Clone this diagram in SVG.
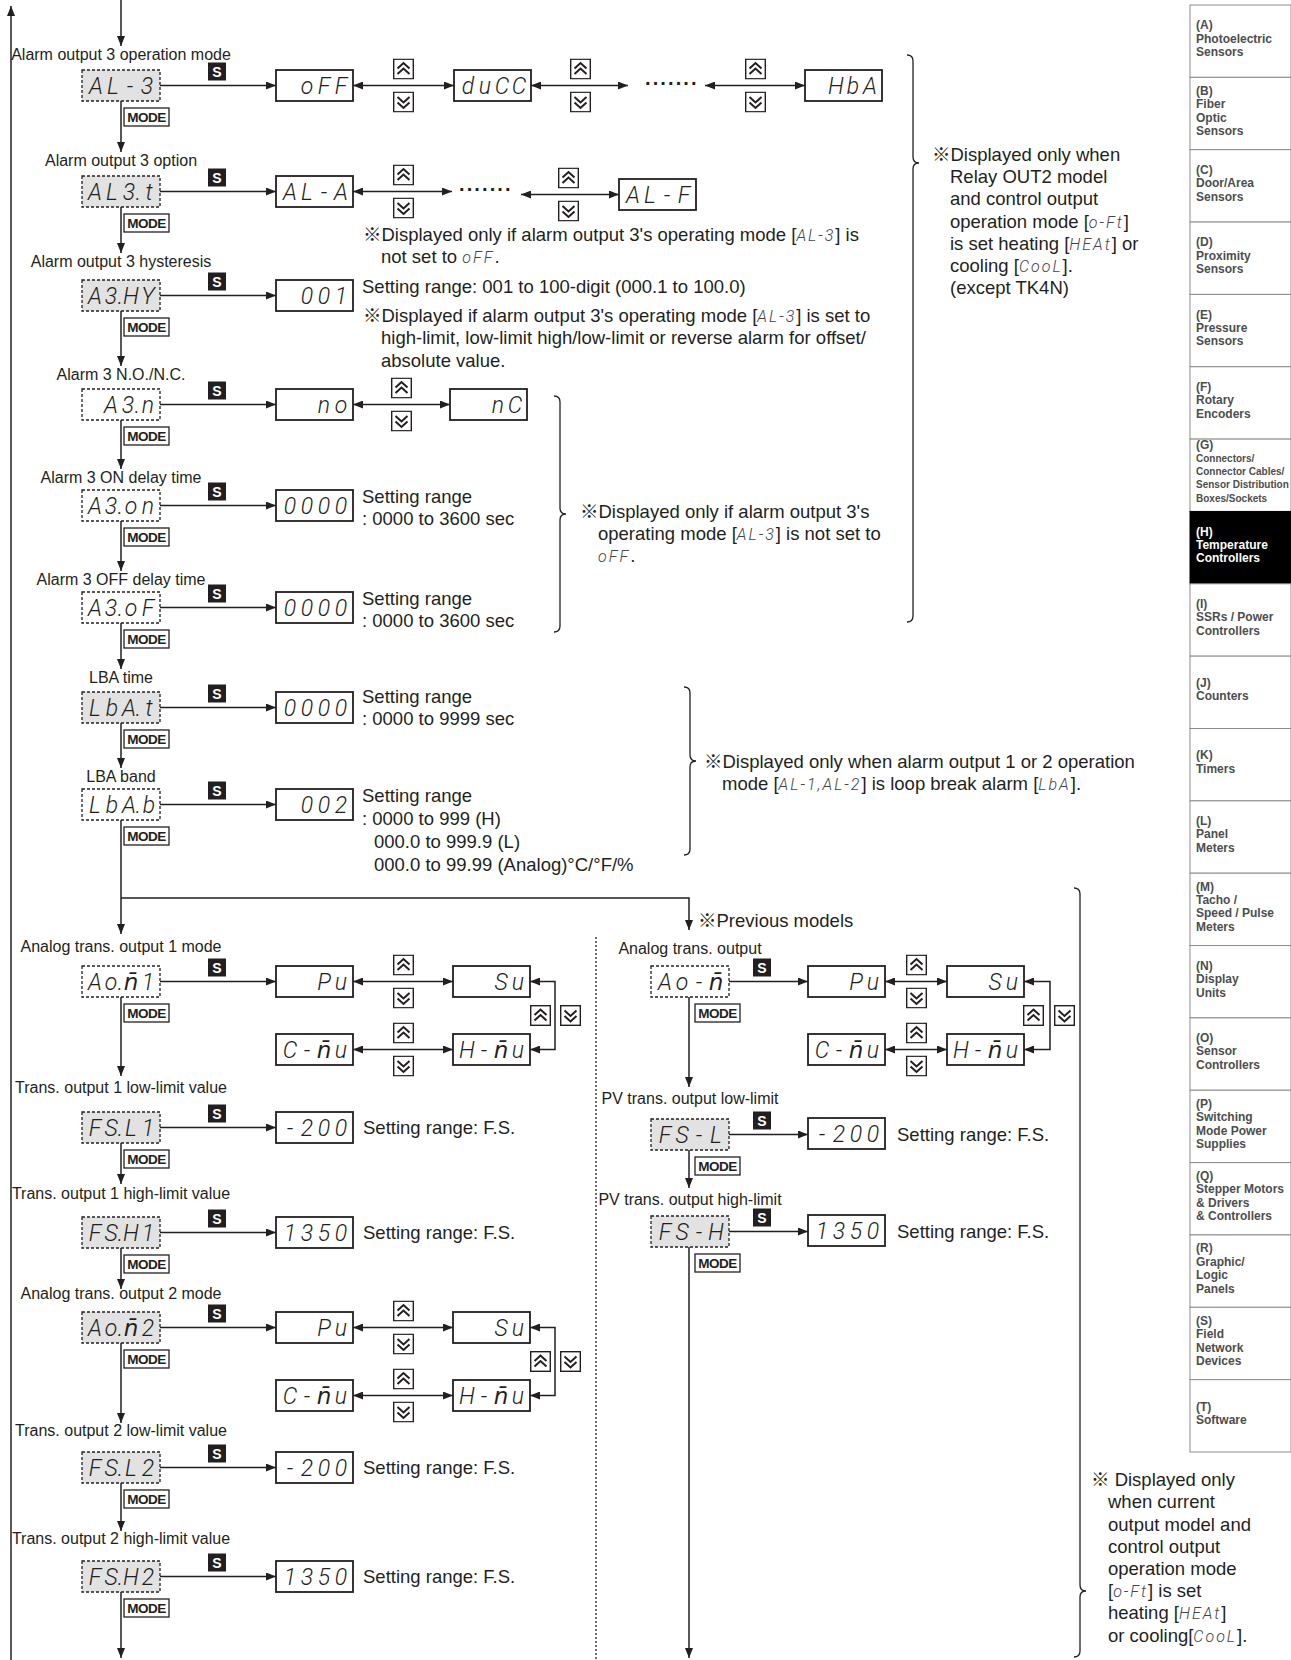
<svg xmlns="http://www.w3.org/2000/svg" width="1291" height="1660" viewBox="0 0 1291 1660">
<defs>
<style>
.ln{fill:none;stroke:#231f20;stroke-width:1.5}
.arr{marker-end:url(#ah)}
.bi{marker-start:url(#ah);marker-end:url(#ah)}
.dotl{fill:none;stroke:#231f20;stroke-width:1.3;stroke-dasharray:2 2}
.br{fill:none;stroke:#231f20;stroke-width:1.3}
.nw{fill:#fff;stroke:#231f20;stroke-width:1.3;stroke-dasharray:3 2}
.ng{fill:#e2e2e2;stroke:#231f20;stroke-width:1.3;stroke-dasharray:3 2}
.vb{fill:#fff;stroke:#231f20;stroke-width:1.8}
.seg{font-family:Roboto,"DejaVu Sans",sans-serif;font-weight:300;font-style:italic;font-size:23px;fill:#231f20;text-anchor:middle}
.lbl{font-family:"Liberation Sans",Arial,sans-serif;font-size:16px;fill:#231f20;text-anchor:middle}
.note{font-family:"Liberation Sans",Arial,"Noto Sans CJK JP",sans-serif;font-size:18.5px;fill:#231f20}
.iseg{font-family:Roboto,"DejaVu Sans",sans-serif;font-weight:300;font-style:italic;font-size:16px;fill:#444;letter-spacing:2px}
.sb{fill:#231f20}
.sbt{font-family:"Liberation Sans",Arial,sans-serif;font-weight:bold;font-size:14px;fill:#fff;text-anchor:middle}
.mb{fill:#fff;stroke:#231f20;stroke-width:1.3}
.mbt{font-family:"Liberation Sans",Arial,sans-serif;font-weight:bold;font-size:13.5px;fill:#231f20;text-anchor:middle;letter-spacing:-0.5px}
.tab{fill:#fff;stroke:#8c8c8c;stroke-width:1}
.tabh{fill:#000;stroke:#000;stroke-width:1}
.tt{font-family:"Liberation Sans",Arial,sans-serif;font-weight:bold;font-size:12px;fill:#4d4d4d}
.tts{font-size:10px}
.tth{fill:#fff}
.dots{font-family:"Liberation Sans",Arial,sans-serif;font-weight:bold;font-size:20px;fill:#231f20;letter-spacing:1px}
</style>
<marker id="ah" viewBox="0 0 10 8" refX="10" refY="4" markerWidth="10" markerHeight="8" markerUnits="userSpaceOnUse" orient="auto-start-reverse"><path d="M0,0 L10,4 L0,8 z" fill="#231f20"/></marker>
<symbol id="bu" viewBox="0 0 21 21"><rect x="0.7" y="0.7" width="19.6" height="19.6" fill="#fff" stroke="#231f20" stroke-width="1.4"/><path d="M4.5,10 L10.5,4.5 L16.5,10 M4.5,15.5 L10.5,10 L16.5,15.5" fill="none" stroke="#231f20" stroke-width="2"/></symbol>
<symbol id="bd" viewBox="0 0 21 21"><rect x="0.7" y="0.7" width="19.6" height="19.6" fill="#fff" stroke="#231f20" stroke-width="1.4"/><path d="M4.5,5.5 L10.5,11 L16.5,5.5 M4.5,11 L10.5,16.5 L16.5,11" fill="none" stroke="#231f20" stroke-width="2"/></symbol>
</defs>
<rect width="1291" height="1660" fill="#fff"/>

<g id="connectors">
<path class="ln arr" d="M121,0 V46"/>
<path class="ln arr" d="M11,1660 V6"/>
<path class="ln arr" d="M121,101 V152"/>
<path class="ln arr" d="M121,207 V253"/>
<path class="ln arr" d="M121,311 V366"/>
<path class="ln arr" d="M121,420 V469"/>
<path class="ln arr" d="M121,521 V571"/>
<path class="ln arr" d="M121,623 V669"/>
<path class="ln arr" d="M121,723 V768"/>
<path class="ln arr" d="M121,820 V934"/>
<path class="ln arr" d="M121,898 H689 V930"/>
<path class="ln arr" d="M121,997 V1076"/>
<path class="ln arr" d="M121,1143 V1184"/>
<path class="ln arr" d="M121,1248 V1289"/>
<path class="ln arr" d="M121,1343 V1423"/>
<path class="ln arr" d="M121,1483 V1531"/>
<path class="ln arr" d="M121,1592 V1658"/>
<path class="ln arr" d="M689,997 V1087"/>
<path class="ln arr" d="M689,1150 V1188"/>
<path class="ln arr" d="M689,1247 V1658"/>
<path class="dotl" d="M596,937 V1660"/>
<path class="ln arr" d="M160,85.5 H276"/>
<path class="ln arr" d="M160,191.5 H276"/>
<path class="ln arr" d="M160,295.5 H276"/>
<path class="ln arr" d="M160,404.5 H276"/>
<path class="ln arr" d="M160,505.5 H276"/>
<path class="ln arr" d="M160,607.5 H276"/>
<path class="ln arr" d="M160,707.5 H276"/>
<path class="ln arr" d="M160,804.5 H276"/>
<path class="ln arr" d="M160,981.5 H276"/>
<path class="ln arr" d="M160,1127.5 H276"/>
<path class="ln arr" d="M160,1232.5 H276"/>
<path class="ln arr" d="M160,1327.5 H276"/>
<path class="ln arr" d="M160,1467.5 H276"/>
<path class="ln arr" d="M160,1576.5 H276"/>
<path class="ln arr" d="M729,981.5 H808"/>
<path class="ln arr" d="M729,1134.5 H808"/>
<path class="ln arr" d="M729,1231.5 H808"/>
<path class="ln bi" d="M353,85.5 H454"/>
<path class="ln bi" d="M531,85.5 H628"/>
<path class="ln bi" d="M705,85.5 H805"/>
<path class="ln bi" d="M353,191.5 H452"/>
<path class="ln bi" d="M521,194.5 H619"/>
<path class="ln bi" d="M353,404.5 H450"/>
<path class="ln bi" d="M353,981.5 H453"/>
<path class="ln bi" d="M353,1049.5 H453"/>
<path class="ln bi" d="M353,1327.5 H453"/>
<path class="ln bi" d="M353,1395.5 H453"/>
<path class="ln bi" d="M885,981.5 H947"/>
<path class="ln bi" d="M885,1049.5 H947"/>
<path class="ln bi" d="M530,981.5 H555 V1049.5 H530"/>
<path class="ln bi" d="M530,1327.5 H555 V1395.5 H530"/>
<path class="ln bi" d="M1024,981.5 H1050 V1049.5 H1024"/>
</g>

<g id="braces">
<path class="br" d="M907,55 Q913,55 913,61 V157 Q913,163 919,163 Q913,163 913,169 V616 Q913,622 907,622"/>
<path class="br" d="M554,396 Q560,396 560,402 V508 Q560,514 566,514 Q560,514 560,520 V626 Q560,632 554,632"/>
<path class="br" d="M684,687 Q690,687 690,693 V755 Q690,761 696,761 Q690,761 690,767 V849 Q690,855 684,855"/>
<path class="br" d="M1074,888 Q1080,888 1080,894 V1585 Q1080,1591 1086,1591 Q1080,1591 1080,1597 V1651 Q1080,1657 1074,1657"/>
</g>

<g id="keys">
<use href="#bu" x="393" y="58.5" width="21" height="21"/><use href="#bd" x="393" y="91.5" width="21" height="21"/>
<use href="#bu" x="570" y="58.5" width="21" height="21"/><use href="#bd" x="570" y="91.5" width="21" height="21"/>
<use href="#bu" x="745" y="58.5" width="21" height="21"/><use href="#bd" x="745" y="91.5" width="21" height="21"/>
<use href="#bu" x="393" y="164.5" width="21" height="21"/><use href="#bd" x="393" y="197.5" width="21" height="21"/>
<use href="#bu" x="558" y="167.5" width="21" height="21"/><use href="#bd" x="558" y="200.5" width="21" height="21"/>
<use href="#bu" x="391" y="377.5" width="21" height="21"/><use href="#bd" x="391" y="410.5" width="21" height="21"/>
<use href="#bu" x="393" y="954.5" width="21" height="21"/><use href="#bd" x="393" y="987.5" width="21" height="21"/>
<use href="#bu" x="393" y="1022.5" width="21" height="21"/><use href="#bd" x="393" y="1055.5" width="21" height="21"/>
<use href="#bu" x="530" y="1005" width="21" height="21"/><use href="#bd" x="560" y="1005" width="21" height="21"/>
<use href="#bu" x="393" y="1300.5" width="21" height="21"/><use href="#bd" x="393" y="1333.5" width="21" height="21"/>
<use href="#bu" x="393" y="1368.5" width="21" height="21"/><use href="#bd" x="393" y="1401.5" width="21" height="21"/>
<use href="#bu" x="530" y="1351" width="21" height="21"/><use href="#bd" x="560" y="1351" width="21" height="21"/>
<use href="#bu" x="906" y="954.5" width="21" height="21"/><use href="#bd" x="906" y="987.5" width="21" height="21"/>
<use href="#bu" x="906" y="1022.5" width="21" height="21"/><use href="#bd" x="906" y="1055.5" width="21" height="21"/>
<use href="#bu" x="1023" y="1005" width="21" height="21"/><use href="#bd" x="1054" y="1005" width="21" height="21"/>
</g>

<g id="s-badges">
<rect class="sb" x="208" y="62.5" width="18" height="18"/><text class="sbt" x="217" y="76.5">S</text>
<rect class="sb" x="208" y="168.5" width="18" height="18"/><text class="sbt" x="217" y="182.5">S</text>
<rect class="sb" x="208" y="272.5" width="18" height="18"/><text class="sbt" x="217" y="286.5">S</text>
<rect class="sb" x="208" y="381.5" width="18" height="18"/><text class="sbt" x="217" y="395.5">S</text>
<rect class="sb" x="208" y="482.5" width="18" height="18"/><text class="sbt" x="217" y="496.5">S</text>
<rect class="sb" x="208" y="584.5" width="18" height="18"/><text class="sbt" x="217" y="598.5">S</text>
<rect class="sb" x="208" y="684.5" width="18" height="18"/><text class="sbt" x="217" y="698.5">S</text>
<rect class="sb" x="208" y="781.5" width="18" height="18"/><text class="sbt" x="217" y="795.5">S</text>
<rect class="sb" x="208" y="958.5" width="18" height="18"/><text class="sbt" x="217" y="972.5">S</text>
<rect class="sb" x="208" y="1104.5" width="18" height="18"/><text class="sbt" x="217" y="1118.5">S</text>
<rect class="sb" x="208" y="1209.5" width="18" height="18"/><text class="sbt" x="217" y="1223.5">S</text>
<rect class="sb" x="208" y="1304.5" width="18" height="18"/><text class="sbt" x="217" y="1318.5">S</text>
<rect class="sb" x="208" y="1444.5" width="18" height="18"/><text class="sbt" x="217" y="1458.5">S</text>
<rect class="sb" x="208" y="1553.5" width="18" height="18"/><text class="sbt" x="217" y="1567.5">S</text>
<rect class="sb" x="753" y="958.5" width="18" height="18"/><text class="sbt" x="762" y="972.5">S</text>
<rect class="sb" x="753" y="1111.5" width="18" height="18"/><text class="sbt" x="762" y="1125.5">S</text>
<rect class="sb" x="753" y="1208.5" width="18" height="18"/><text class="sbt" x="762" y="1222.5">S</text>
</g>

<g id="mode-badges">
<rect class="mb" x="124" y="108" width="45" height="18"/><text class="mbt" x="146.5" y="122">MODE</text>
<rect class="mb" x="124" y="214" width="45" height="18"/><text class="mbt" x="146.5" y="228">MODE</text>
<rect class="mb" x="124" y="318" width="45" height="18"/><text class="mbt" x="146.5" y="332">MODE</text>
<rect class="mb" x="124" y="427" width="45" height="18"/><text class="mbt" x="146.5" y="441">MODE</text>
<rect class="mb" x="124" y="528" width="45" height="18"/><text class="mbt" x="146.5" y="542">MODE</text>
<rect class="mb" x="124" y="630" width="45" height="18"/><text class="mbt" x="146.5" y="644">MODE</text>
<rect class="mb" x="124" y="730" width="45" height="18"/><text class="mbt" x="146.5" y="744">MODE</text>
<rect class="mb" x="124" y="827" width="45" height="18"/><text class="mbt" x="146.5" y="841">MODE</text>
<rect class="mb" x="124" y="1004" width="45" height="18"/><text class="mbt" x="146.5" y="1018">MODE</text>
<rect class="mb" x="124" y="1150" width="45" height="18"/><text class="mbt" x="146.5" y="1164">MODE</text>
<rect class="mb" x="124" y="1255" width="45" height="18"/><text class="mbt" x="146.5" y="1269">MODE</text>
<rect class="mb" x="124" y="1350" width="45" height="18"/><text class="mbt" x="146.5" y="1364">MODE</text>
<rect class="mb" x="124" y="1490" width="45" height="18"/><text class="mbt" x="146.5" y="1504">MODE</text>
<rect class="mb" x="124" y="1599" width="45" height="18"/><text class="mbt" x="146.5" y="1613">MODE</text>
<rect class="mb" x="695" y="1004" width="45" height="18"/><text class="mbt" x="717.5" y="1018">MODE</text>
<rect class="mb" x="695" y="1157" width="45" height="18"/><text class="mbt" x="717.5" y="1171">MODE</text>
<rect class="mb" x="695" y="1254" width="45" height="18"/><text class="mbt" x="717.5" y="1268">MODE</text>
</g>

<g id="n-al3"><text class="lbl" x="121" y="60">Alarm output 3 operation mode</text><rect class="ng" x="82" y="70" width="78" height="31"/><text class="seg" x="96 113 130 147" y="93.5">AL-3</text></g>
<g id="n-al3t"><text class="lbl" x="121" y="166">Alarm output 3 option</text><rect class="ng" x="82" y="176" width="78" height="31"/><text class="seg" x="95 112 129 138.5 149" y="199.5">AL3.t</text></g>
<g id="n-a3hy"><text class="lbl" x="121" y="267">Alarm output 3 hysteresis</text><rect class="ng" x="82" y="280" width="78" height="31"/><text class="seg" x="95 111 120.5 131 148" y="303.5">A3.HY</text></g>
<g id="n-a3n"><text class="lbl" x="121" y="380">Alarm 3 N.O./N.C.</text><rect class="nw" x="82" y="389" width="78" height="31"/><text class="seg" x="111 128 137.5 148" y="412.5">A3.n</text></g>
<g id="n-a3on"><text class="lbl" x="121" y="483">Alarm 3 ON delay time</text><rect class="nw" x="82" y="490" width="78" height="31"/><text class="seg" x="95 111 120.5 131 148" y="513.5">A3.on</text></g>
<g id="n-a3of"><text class="lbl" x="121" y="585">Alarm 3 OFF delay time</text><rect class="nw" x="82" y="592" width="78" height="31"/><text class="seg" x="95 111 120.5 131 148" y="615.5">A3.oF</text></g>
<g id="n-lbat"><text class="lbl" x="121" y="683">LBA time</text><rect class="ng" x="82" y="692" width="78" height="31"/><text class="seg" x="95 112 129 138.5 149" y="715.5">LbA.t</text></g>
<g id="n-lbab"><text class="lbl" x="121" y="782">LBA band</text><rect class="nw" x="82" y="789" width="78" height="31"/><text class="seg" x="95 112 129 138.5 149" y="812.5">LbA.b</text></g>
<g id="n-aom1"><text class="lbl" x="121" y="952">Analog trans. output 1 mode</text><rect class="nw" x="82" y="966" width="78" height="31"/><text class="seg" y="989.5"><tspan x="95">A</tspan><tspan x="111">o</tspan><tspan x="120.5">.</tspan><tspan x="131">n̄</tspan><tspan x="148">1</tspan></text></g>
<g id="n-fsl1"><text class="lbl" x="121" y="1093">Trans. output 1 low-limit value</text><rect class="ng" x="82" y="1112" width="78" height="31"/><text class="seg" x="95 111 120.5 131 148" y="1135.5">FS.L1</text></g>
<g id="n-fsh1"><text class="lbl" x="121" y="1199">Trans. output 1 high-limit value</text><rect class="ng" x="82" y="1217" width="78" height="31"/><text class="seg" x="95 111 120.5 131 148" y="1240.5">FS.H1</text></g>
<g id="n-aom2"><text class="lbl" x="121" y="1299">Analog trans. output 2 mode</text><rect class="ng" x="82" y="1312" width="78" height="31"/><text class="seg" y="1335.5"><tspan x="95">A</tspan><tspan x="111">o</tspan><tspan x="120.5">.</tspan><tspan x="131">n̄</tspan><tspan x="148">2</tspan></text></g>
<g id="n-fsl2"><text class="lbl" x="121" y="1436">Trans. output 2 low-limit value</text><rect class="ng" x="82" y="1452" width="78" height="31"/><text class="seg" x="95 111 120.5 131 148" y="1475.5">FS.L2</text></g>
<g id="n-fsh2"><text class="lbl" x="121" y="1544">Trans. output 2 high-limit value</text><rect class="ng" x="82" y="1561" width="78" height="31"/><text class="seg" x="95 111 120.5 131 148" y="1584.5">FS.H2</text></g>
<g id="n-aom"><text class="lbl" x="690" y="954">Analog trans. output</text><rect class="nw" x="651" y="966" width="78" height="31"/><text class="seg" y="989.5"><tspan x="665">A</tspan><tspan x="682">o</tspan><tspan x="699">-</tspan><tspan x="716">n̄</tspan></text></g>
<g id="n-fsl"><text class="lbl" x="690" y="1104">PV trans. output low-limit</text><rect class="ng" x="651" y="1119" width="78" height="31"/><text class="seg" x="665 682 699 716" y="1142.5">FS-L</text></g>
<g id="n-fsh"><text class="lbl" x="690" y="1205">PV trans. output high-limit</text><rect class="ng" x="651" y="1216" width="78" height="31"/><text class="seg" x="665 682 699 716" y="1239.5">FS-H</text></g>

<g id="v-off"><rect class="vb" x="276" y="70" width="77" height="31"/><text class="seg" x="307 324 341" y="93.5">oFF</text></g>
<g id="v-ducc"><rect class="vb" x="454" y="70" width="77" height="31"/><text class="seg" x="468 485 502 519" y="93.5">duCC</text></g>
<text class="dots" x="645" y="89.5">·······</text>
<g id="v-hba"><rect class="vb" x="805" y="70" width="77" height="31"/><text class="seg" x="836 853 870" y="93.5">HbA</text></g>
<g id="v-ala"><rect class="vb" x="276" y="176" width="77" height="31"/><text class="seg" x="290 307 324 341" y="199.5">AL-A</text></g>
<text class="dots" x="459" y="195.5">·······</text>
<g id="v-alf"><rect class="vb" x="619" y="179" width="77" height="31"/><text class="seg" x="633 650 667 684" y="202.5">AL-F</text></g>
<g id="v-001"><rect class="vb" x="276" y="280" width="77" height="31"/><text class="seg" x="307 324 341" y="303.5">001</text></g>
<g id="v-no"><rect class="vb" x="276" y="389" width="77" height="31"/><text class="seg" x="324 341" y="412.5">no</text></g>
<g id="v-nc"><rect class="vb" x="450" y="389" width="77" height="31"/><text class="seg" x="498 515" y="412.5">nC</text></g>
<g id="v-on"><rect class="vb" x="276" y="490" width="77" height="31"/><text class="seg" x="290 307 324 341" y="513.5">0000</text></g>
<g id="v-of"><rect class="vb" x="276" y="592" width="77" height="31"/><text class="seg" x="290 307 324 341" y="615.5">0000</text></g>
<g id="v-lbat"><rect class="vb" x="276" y="692" width="77" height="31"/><text class="seg" x="290 307 324 341" y="715.5">0000</text></g>
<g id="v-lbab"><rect class="vb" x="276" y="789" width="77" height="31"/><text class="seg" x="307 324 341" y="812.5">002</text></g>
<g id="v-pu1"><rect class="vb" x="276" y="966" width="77" height="31"/><text class="seg" x="324 341" y="989.5">Pu</text></g>
<g id="v-su1"><rect class="vb" x="453" y="966" width="77" height="31"/><text class="seg" x="501 518" y="989.5">Su</text></g>
<g id="v-cmu1"><rect class="vb" x="276" y="1034" width="77" height="31"/><text class="seg" y="1057.5"><tspan x="290">C</tspan><tspan x="307">-</tspan><tspan x="324">n̄</tspan><tspan x="341">u</tspan></text></g>
<g id="v-hmu1"><rect class="vb" x="453" y="1034" width="77" height="31"/><text class="seg" y="1057.5"><tspan x="467">H</tspan><tspan x="484">-</tspan><tspan x="501">n̄</tspan><tspan x="518">u</tspan></text></g>
<g id="v-fsl1"><rect class="vb" x="276" y="1112" width="77" height="31"/><text class="seg" x="290 307 324 341" y="1135.5">-200</text></g>
<g id="v-fsh1"><rect class="vb" x="276" y="1217" width="77" height="31"/><text class="seg" x="290 307 324 341" y="1240.5">1350</text></g>
<g id="v-pu2"><rect class="vb" x="276" y="1312" width="77" height="31"/><text class="seg" x="324 341" y="1335.5">Pu</text></g>
<g id="v-su2"><rect class="vb" x="453" y="1312" width="77" height="31"/><text class="seg" x="501 518" y="1335.5">Su</text></g>
<g id="v-cmu2"><rect class="vb" x="276" y="1380" width="77" height="31"/><text class="seg" y="1403.5"><tspan x="290">C</tspan><tspan x="307">-</tspan><tspan x="324">n̄</tspan><tspan x="341">u</tspan></text></g>
<g id="v-hmu2"><rect class="vb" x="453" y="1380" width="77" height="31"/><text class="seg" y="1403.5"><tspan x="467">H</tspan><tspan x="484">-</tspan><tspan x="501">n̄</tspan><tspan x="518">u</tspan></text></g>
<g id="v-fsl2"><rect class="vb" x="276" y="1452" width="77" height="31"/><text class="seg" x="290 307 324 341" y="1475.5">-200</text></g>
<g id="v-fsh2"><rect class="vb" x="276" y="1561" width="77" height="31"/><text class="seg" x="290 307 324 341" y="1584.5">1350</text></g>
<g id="v-pu"><rect class="vb" x="808" y="966" width="77" height="31"/><text class="seg" x="856 873" y="989.5">Pu</text></g>
<g id="v-su"><rect class="vb" x="947" y="966" width="77" height="31"/><text class="seg" x="995 1012" y="989.5">Su</text></g>
<g id="v-cmu"><rect class="vb" x="808" y="1034" width="77" height="31"/><text class="seg" y="1057.5"><tspan x="822">C</tspan><tspan x="839">-</tspan><tspan x="856">n̄</tspan><tspan x="873">u</tspan></text></g>
<g id="v-hmu"><rect class="vb" x="947" y="1034" width="77" height="31"/><text class="seg" y="1057.5"><tspan x="961">H</tspan><tspan x="978">-</tspan><tspan x="995">n̄</tspan><tspan x="1012">u</tspan></text></g>
<g id="v-fsl"><rect class="vb" x="808" y="1118" width="77" height="31"/><text class="seg" x="822 839 856 873" y="1141.5">-200</text></g>
<g id="v-fsh"><rect class="vb" x="808" y="1215" width="77" height="31"/><text class="seg" x="822 839 856 873" y="1238.5">1350</text></g>

<g id="notes">
<text class="note" x="363" y="241">※Displayed only if alarm output 3's operating mode [<tspan class="iseg">AL-3</tspan>] is</text>
<text class="note" x="381" y="263">not set to <tspan class="iseg">oFF</tspan>.</text>
<text class="note" x="362" y="293">Setting range: 001 to 100-digit (000.1 to 100.0)</text>
<text class="note" x="363" y="322">※Displayed if alarm output 3's operating mode [<tspan class="iseg">AL-3</tspan>] is set to</text>
<text class="note" x="381" y="344">high-limit, low-limit high/low-limit or reverse alarm for offset/</text>
<text class="note" x="381" y="367">absolute value.</text>
<text class="note" x="362" y="503">Setting range</text>
<text class="note" x="362" y="525">: 0000 to 3600 sec</text>
<text class="note" x="362" y="605">Setting range</text>
<text class="note" x="362" y="627">: 0000 to 3600 sec</text>
<text class="note" x="362" y="703">Setting range</text>
<text class="note" x="362" y="725">: 0000 to 9999 sec</text>
<text class="note" x="362" y="802">Setting range</text>
<text class="note" x="362" y="825">: 0000 to 999 (H)</text>
<text class="note" x="374" y="848">000.0 to 999.9 (L)</text>
<text class="note" x="374" y="871">000.0 to 99.99 (Analog)°C/°F/%</text>
<text class="note" x="363" y="1133.5">Setting range: F.S.</text>
<text class="note" x="363" y="1238.5">Setting range: F.S.</text>
<text class="note" x="363" y="1473.5">Setting range: F.S.</text>
<text class="note" x="363" y="1582.5">Setting range: F.S.</text>
<text class="note" x="897" y="1140.5">Setting range: F.S.</text>
<text class="note" x="897" y="1237.5">Setting range: F.S.</text>
<text class="note" x="698" y="927">※Previous models</text>
<text class="note" x="932" y="161">※Displayed only when</text>
<text class="note" x="950" y="183">Relay OUT2 model</text>
<text class="note" x="950" y="205">and control output</text>
<text class="note" x="950" y="228">operation mode [<tspan class="iseg">o-Ft</tspan>]</text>
<text class="note" x="950" y="250">is set heating [<tspan class="iseg">HEAt</tspan>] or</text>
<text class="note" x="950" y="272">cooling [<tspan class="iseg">CooL</tspan>].</text>
<text class="note" x="950" y="294">(except TK4N)</text>
<text class="note" x="580" y="518">※Displayed only if alarm output 3's</text>
<text class="note" x="598" y="540">operating mode [<tspan class="iseg">AL-3</tspan>] is not set to</text>
<text class="note" x="598" y="562"><tspan class="iseg">oFF</tspan>.</text>
<text class="note" x="704" y="768">※Displayed only when alarm output 1 or 2 operation</text>
<text class="note" x="722" y="790">mode [<tspan class="iseg">AL-1,AL-2</tspan>] is loop break alarm [<tspan class="iseg">LbA</tspan>].</text>
<text class="note" x="1091" y="1486">※ Displayed only</text>
<text class="note" x="1108" y="1508">when current</text>
<text class="note" x="1108" y="1531">output model and</text>
<text class="note" x="1108" y="1553">control output</text>
<text class="note" x="1108" y="1575">operation mode</text>
<text class="note" x="1108" y="1597">[<tspan class="iseg">o-Ft</tspan>] is set</text>
<text class="note" x="1108" y="1619">heating [<tspan class="iseg">HEAt</tspan>]</text>
<text class="note" x="1108" y="1642">or cooling[<tspan class="iseg">CooL</tspan>].</text>
</g>

<g id="sidebar">
<rect class="tab" x="1190" y="5" width="101" height="72.35"/>
<rect class="tab" x="1190" y="77.35" width="101" height="72.35"/>
<rect class="tab" x="1190" y="149.7" width="101" height="72.35"/>
<rect class="tab" x="1190" y="222.05" width="101" height="72.35"/>
<rect class="tab" x="1190" y="294.4" width="101" height="72.35"/>
<rect class="tab" x="1190" y="366.75" width="101" height="72.35"/>
<rect class="tab" x="1190" y="439.1" width="101" height="72.35"/>
<rect class="tabh" x="1190" y="511.45" width="101" height="72.35"/>
<rect class="tab" x="1190" y="583.8" width="101" height="72.35"/>
<rect class="tab" x="1190" y="656.15" width="101" height="72.35"/>
<rect class="tab" x="1190" y="728.5" width="101" height="72.35"/>
<rect class="tab" x="1190" y="800.85" width="101" height="72.35"/>
<rect class="tab" x="1190" y="873.2" width="101" height="72.35"/>
<rect class="tab" x="1190" y="945.55" width="101" height="72.35"/>
<rect class="tab" x="1190" y="1017.9" width="101" height="72.35"/>
<rect class="tab" x="1190" y="1090.25" width="101" height="72.35"/>
<rect class="tab" x="1190" y="1162.6" width="101" height="72.35"/>
<rect class="tab" x="1190" y="1234.95" width="101" height="72.35"/>
<rect class="tab" x="1190" y="1307.3" width="101" height="72.35"/>
<rect class="tab" x="1190" y="1379.65" width="101" height="72.35"/>
<text class="tt" y="29.1"><tspan x="1196">(A)</tspan><tspan x="1196" dy="13.4">Photoelectric</tspan><tspan x="1196" dy="13.4">Sensors</tspan></text>
<text class="tt" y="94.8"><tspan x="1196">(B)</tspan><tspan x="1196" dy="13.4">Fiber</tspan><tspan x="1196" dy="13.4">Optic</tspan><tspan x="1196" dy="13.4">Sensors</tspan></text>
<text class="tt" y="173.8"><tspan x="1196">(C)</tspan><tspan x="1196" dy="13.4">Door/Area</tspan><tspan x="1196" dy="13.4">Sensors</tspan></text>
<text class="tt" y="246.2"><tspan x="1196">(D)</tspan><tspan x="1196" dy="13.4">Proximity</tspan><tspan x="1196" dy="13.4">Sensors</tspan></text>
<text class="tt" y="318.5"><tspan x="1196">(E)</tspan><tspan x="1196" dy="13.4">Pressure</tspan><tspan x="1196" dy="13.4">Sensors</tspan></text>
<text class="tt" y="390.9"><tspan x="1196">(F)</tspan><tspan x="1196" dy="13.4">Rotary</tspan><tspan x="1196" dy="13.4">Encoders</tspan></text>
<text class="tt tts" y="448.5"><tspan x="1196" style="font-size:12px">(G)</tspan><tspan x="1196" dy="13.3">Connectors/</tspan><tspan x="1196" dy="13.3">Connector Cables/</tspan><tspan x="1196" dy="13.3">Sensor Distribution</tspan><tspan x="1196" dy="13.3">Boxes/Sockets</tspan></text>
<text class="tt tth" y="535.6"><tspan x="1196">(H)</tspan><tspan x="1196" dy="13.4">Temperature</tspan><tspan x="1196" dy="13.4">Controllers</tspan></text>
<text class="tt" y="607.9"><tspan x="1196">(I)</tspan><tspan x="1196" dy="13.4">SSRs / Power</tspan><tspan x="1196" dy="13.4">Controllers</tspan></text>
<text class="tt" y="687"><tspan x="1196">(J)</tspan><tspan x="1196" dy="13.4">Counters</tspan></text>
<text class="tt" y="759.3"><tspan x="1196">(K)</tspan><tspan x="1196" dy="13.4">Timers</tspan></text>
<text class="tt" y="825"><tspan x="1196">(L)</tspan><tspan x="1196" dy="13.4">Panel</tspan><tspan x="1196" dy="13.4">Meters</tspan></text>
<text class="tt" y="890.6"><tspan x="1196">(M)</tspan><tspan x="1196" dy="13.4">Tacho /</tspan><tspan x="1196" dy="13.4">Speed / Pulse</tspan><tspan x="1196" dy="13.4">Meters</tspan></text>
<text class="tt" y="969.7"><tspan x="1196">(N)</tspan><tspan x="1196" dy="13.4">Display</tspan><tspan x="1196" dy="13.4">Units</tspan></text>
<text class="tt" y="1042"><tspan x="1196">(O)</tspan><tspan x="1196" dy="13.4">Sensor</tspan><tspan x="1196" dy="13.4">Controllers</tspan></text>
<text class="tt" y="1107.7"><tspan x="1196">(P)</tspan><tspan x="1196" dy="13.4">Switching</tspan><tspan x="1196" dy="13.4">Mode Power</tspan><tspan x="1196" dy="13.4">Supplies</tspan></text>
<text class="tt" y="1180"><tspan x="1196">(Q)</tspan><tspan x="1196" dy="13.4">Stepper Motors</tspan><tspan x="1196" dy="13.4">&amp; Drivers</tspan><tspan x="1196" dy="13.4">&amp; Controllers</tspan></text>
<text class="tt" y="1252.4"><tspan x="1196">(R)</tspan><tspan x="1196" dy="13.4">Graphic/</tspan><tspan x="1196" dy="13.4">Logic</tspan><tspan x="1196" dy="13.4">Panels</tspan></text>
<text class="tt" y="1324.7"><tspan x="1196">(S)</tspan><tspan x="1196" dy="13.4">Field</tspan><tspan x="1196" dy="13.4">Network</tspan><tspan x="1196" dy="13.4">Devices</tspan></text>
<text class="tt" y="1410.5"><tspan x="1196">(T)</tspan><tspan x="1196" dy="13.4">Software</tspan></text>
</g>
</svg>
